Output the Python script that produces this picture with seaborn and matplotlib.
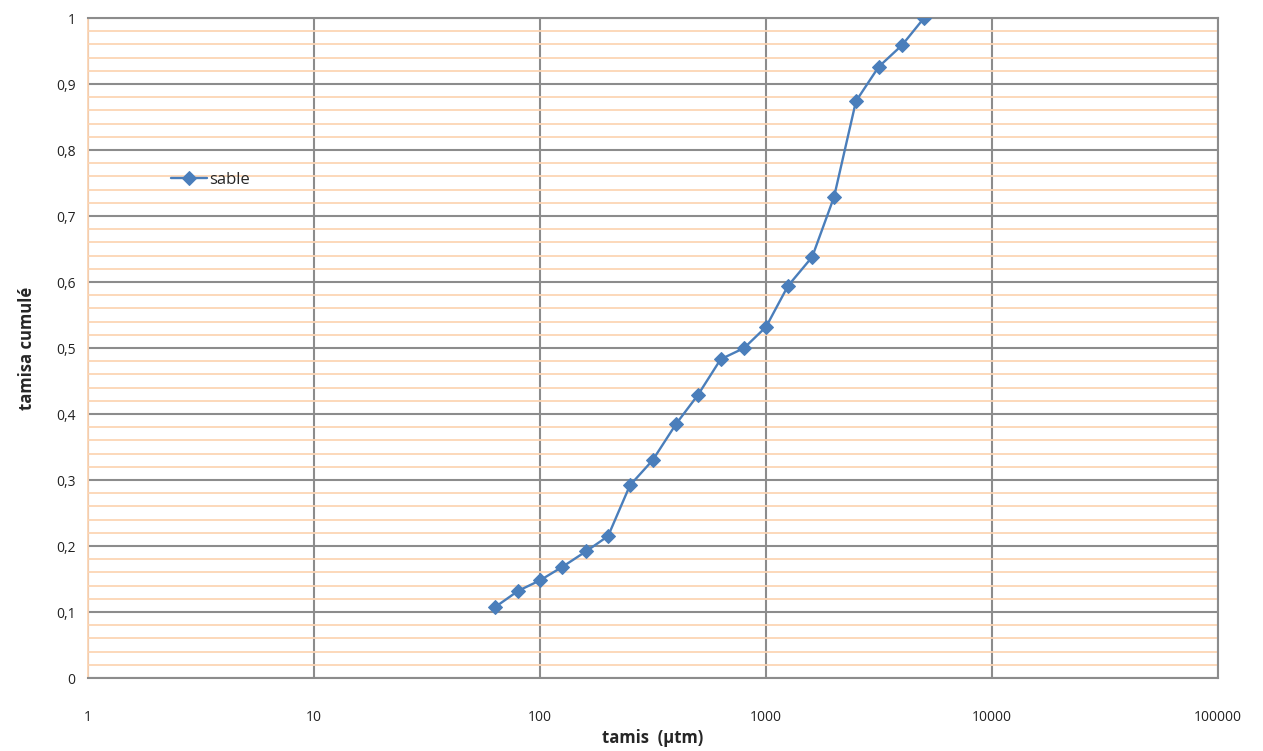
import matplotlib
matplotlib.use("Agg")
import matplotlib.pyplot as plt
import matplotlib.ticker as mticker
import numpy as np
import pandas as pd
import seaborn as sns

# --- data ---
tamis = [63, 80, 100, 125, 160, 200, 250, 315, 400, 500, 630, 800,
         1000, 1250, 1600, 2000, 2500, 3150, 4000, 5000]
cumule = [0.107, 0.132, 0.148, 0.168, 0.192, 0.215, 0.292, 0.330, 0.385,
          0.429, 0.483, 0.500, 0.532, 0.594, 0.638, 0.729, 0.874, 0.926,
          0.959, 1.0]
series_name = "sable"
x_ticks = [1, 10, 100, 1000, 10000, 100000]
y_ticks = [0, 0.1, 0.2, 0.3, 0.4, 0.5, 0.6, 0.7, 0.8, 0.9, 1.0]

df = pd.DataFrame({"tamis": tamis, "cumule": cumule, "serie": series_name})

sns.set_style("white")
plt.rcParams["font.family"] = ["Open Sans", "DejaVu Sans"]

BLUE = "#4a7ebb"
GRID = "#8c8c8c"
ORANGE = "#fcd5b4"

fig = plt.figure(figsize=(12.63, 7.51), dpi=100)
ax = fig.add_axes([0.0697, 0.0972, 0.8947, 0.8788])

# minor horizontal grid (orange) then major grid (gray)
ax.set_yticks(np.arange(0, 1.001, 0.02), minor=True)
ax.grid(axis="y", which="minor", color=ORANGE, linewidth=1.3, zorder=0)
ax.grid(axis="y", which="major", color=GRID, linewidth=1.5, zorder=1)
ax.grid(axis="x", which="major", color=GRID, linewidth=1.5, zorder=1)
ax.set_axisbelow(True)

sns.lineplot(
    data=df, x="tamis", y="cumule", hue="serie", palette=[BLUE],
    marker="D", markersize=7.5, markeredgecolor=BLUE, linewidth=1.7,
    ax=ax, zorder=3,
)

ax.set_xscale("log")
ax.set_xlim(1, 100000)
ax.set_ylim(0, 1)
ax.set_xticks(x_ticks)
ax.xaxis.set_major_formatter(mticker.FuncFormatter(lambda v, p: f"{int(round(v))}"))
ax.xaxis.set_minor_locator(mticker.NullLocator())
ax.set_yticks(y_ticks)
ax.yaxis.set_major_formatter(
    mticker.FuncFormatter(lambda v, p: "0" if v == 0 else ("1" if v == 1 else f"{v:.1f}".replace(".", ",")))
)

ax.tick_params(axis="x", which="major", length=5, color=GRID, pad=18,
               labelsize=10, labelcolor="#222222")
ax.tick_params(axis="y", which="major", length=5, color=ORANGE, pad=4,
               labelsize=10, labelcolor="#222222")
ax.tick_params(axis="y", which="minor", length=0)

for side in ["top", "right", "bottom"]:
    ax.spines[side].set_color(GRID)
    ax.spines[side].set_linewidth(1.5)
ax.spines["left"].set_color(ORANGE)
ax.spines["left"].set_linewidth(1.3)

ax.set_xlabel("tamis  (µtm)", fontweight="bold", fontsize=12, labelpad=3)
ax.set_ylabel("tamisa cumulé", fontweight="bold", fontsize=12, labelpad=14)

ax.legend(
    loc="center left", bbox_to_anchor=(0.06, 0.755), frameon=False,
    fontsize=12, handlelength=2.2, handletextpad=0.1, title=None,
)

fig.savefig("out.png", dpi=100)
